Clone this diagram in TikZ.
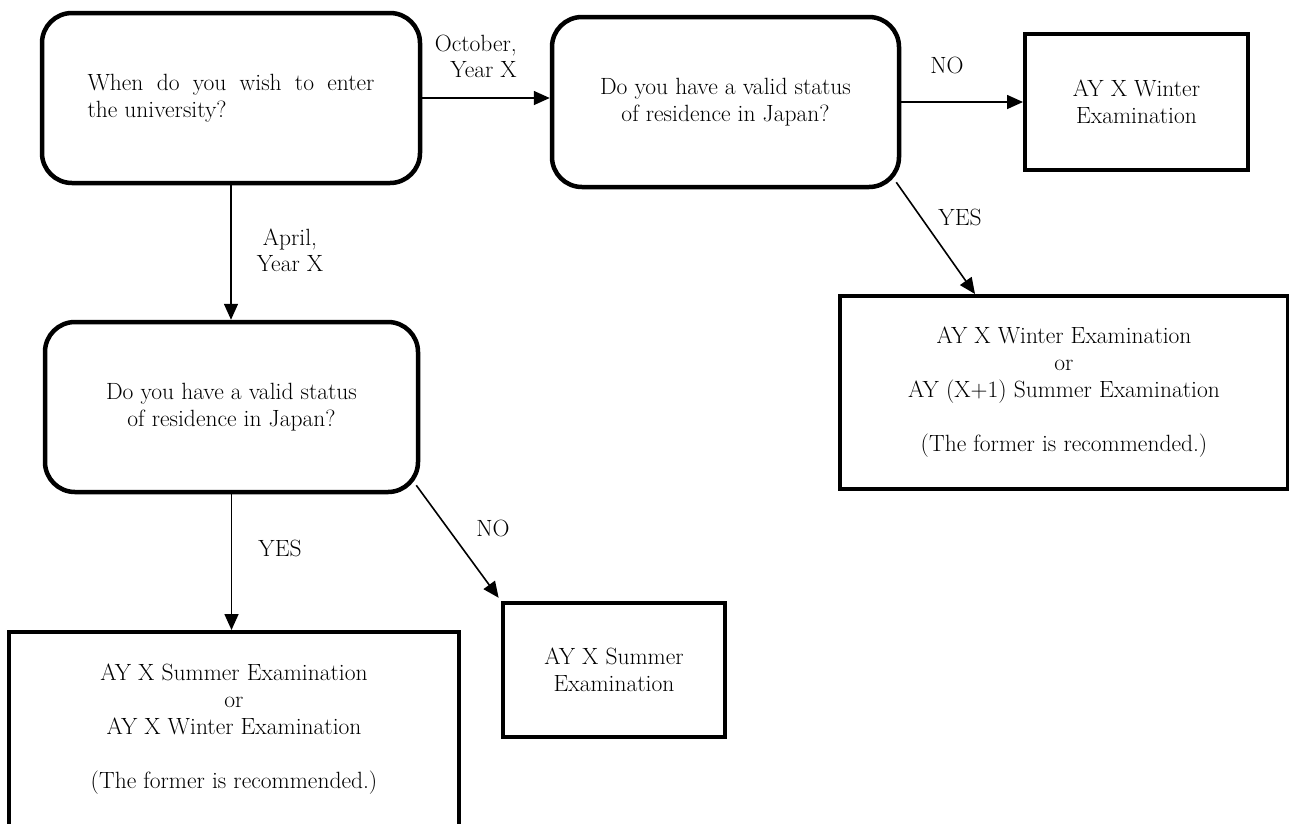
\documentclass[tikz,border=0pt]{standalone}
\usetikzlibrary{arrows.meta,calc}
\begin{document}
\begin{tikzpicture}[x=1pt,y=-1pt,
  rbox/.style={draw, line width=4.5pt, rounded corners=30pt, inner sep=0pt, font=\fontsize{23.5}{27}\selectfont, align=center},
  sbox/.style={draw, line width=4pt, inner sep=0pt, font=\fontsize{23.5}{27}\selectfont, align=center},
  conn/.style={line width=1.6pt, -{Triangle[length=16pt,width=14pt]}},
  lbl/.style={inner sep=0pt, font=\fontsize{23.5}{26}\selectfont}
]
\useasboundingbox (0,0) rectangle (1289,823);
\fill[white] (0,0) rectangle (1289,823);
\clip (0,0) rectangle (1289,823);

% boxes
\node[rbox, minimum width=378pt, minimum height=170pt, text width=287pt, align=justify] (A) at (231,98)
  {When do you wish to enter\linebreak the university?};
\node[rbox, minimum width=347pt, minimum height=170pt] (B) at (725.5,102)
  {Do you have a valid status\\of residence in Japan?};
\node[sbox, minimum width=223pt, minimum height=136pt] (C) at (1136.5,102)
  {AY X Winter\\Examination};
\node[sbox, minimum width=448pt, minimum height=193pt] (D) at (1064,392.5)
  {AY X Winter Examination\\or\\AY (X+1) Summer Examination\\[27pt](The former is recommended.)};
\node[rbox, minimum width=373pt, minimum height=170pt] (E) at (231.5,407)
  {Do you have a valid status\\of residence in Japan?};
\node[sbox, minimum width=450pt, minimum height=194pt] (F) at (234,729)
  {AY X Summer Examination\\or\\AY X Winter Examination\\[27pt](The former is recommended.)};
\node[sbox, minimum width=222pt, minimum height=134pt] (G) at (614,670)
  {AY X Summer\\Examination};

% labels
\node[lbl, align=right, anchor=east] (oct) at (517,56) {October,\\Year X};
\node[lbl, align=center] (apr) at (290,250) {April,\\Year X};
\node[lbl] (no1) at (947,65) {NO};
\node[lbl] (yes1) at (960,217) {YES};
\node[lbl] (yes2) at (280,548) {YES};
\node[lbl] (no2) at (493,528) {NO};

% connectors
\draw[conn] (A.east) -- (A.east -| B.west);
\draw[conn] (A.south) -- (A.south |- E.north);
\draw[conn] (B.east) -- (C.west);
\draw[conn] ([xshift=-5pt,yshift=7pt]B.south east) -- ([xshift=137pt]D.north west);
\draw[conn] (E.south) -- (E.south |- F.north);
\draw[conn, shorten >=4pt] ([xshift=-4pt,yshift=9pt]E.south east) -- (G.north west);
\end{tikzpicture}
\end{document}
